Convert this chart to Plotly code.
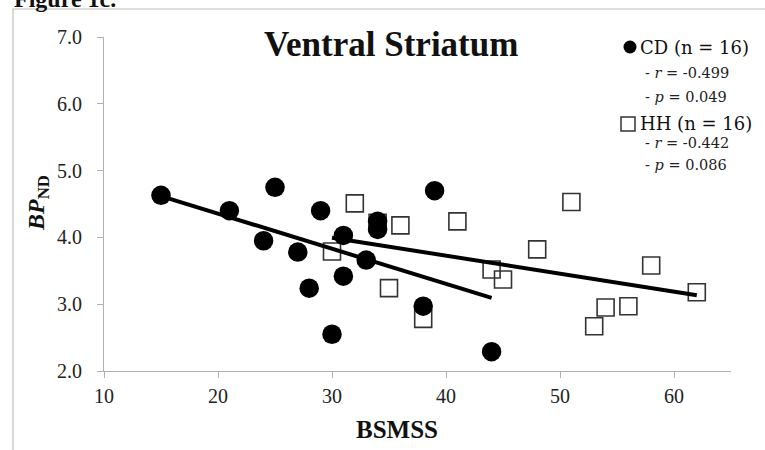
import numpy as np
import plotly.graph_objects as go

# ---- data ----
cd_x = [15, 21, 25, 24, 27, 29, 28, 30, 31, 31, 33, 34, 34, 39, 38, 44]
cd_y = [4.63, 4.40, 4.75, 3.95, 3.78, 4.40, 3.24, 2.55, 4.03, 3.42, 3.66, 4.24, 4.12, 4.70, 2.97, 2.29]
hh_x = [30, 32, 34, 35, 36, 38, 41, 44, 45, 48, 51, 53, 54, 56, 58, 62]
hh_y = [3.79, 4.51, 4.22, 3.24, 4.18, 2.78, 4.24, 3.52, 3.37, 3.82, 4.53, 2.67, 2.95, 2.97, 3.58, 3.18]
x_ticks = [10, 20, 30, 40, 50, 60]
y_ticks = [2, 3, 4, 5, 6, 7]
title = "Ventral Striatum"
cd_label = "CD (n = 16)"
hh_label = "HH (n = 16)"
cd_stats = ["- <i>r</i> = -0.499", "- <i>p</i> = 0.049"]
hh_stats = ["- <i>r</i> = -0.442", "- <i>p</i> = 0.086"]

W, H = 765, 450
L, R, T, B = 104, 34, 37, 79
PW, PH = W - L - R, H - T - B


def px(x):
    return (x - L) / PW


def py(y):
    return (H - B - y) / PH


def fit(xs, ys):
    k, b = np.polyfit(xs, ys, 1)
    xe = np.array([min(xs), max(xs)])
    return xe, k * xe + b


fig = go.Figure()
fig.add_trace(go.Scatter(x=hh_x, y=hh_y, mode="markers",
                         marker=dict(symbol="square-open", size=17,
                                     color="#333333", line=dict(width=1.6, color="#333333"))))
fig.add_trace(go.Scatter(x=cd_x, y=cd_y, mode="markers",
                         marker=dict(symbol="circle", size=19.5, color="black",
                                     line=dict(width=0))))
for xs, ys in ((cd_x, cd_y), (hh_x, hh_y)):
    fx, fy = fit(xs, ys)
    fig.add_trace(go.Scatter(x=fx, y=fy, mode="lines",
                             line=dict(color="black", width=4)))

axis_common = dict(showline=True, linecolor="#b0b0b0", linewidth=1,
                   ticks="outside", ticklen=6, tickcolor="#b0b0b0",
                   showgrid=False, zeroline=False,
                   tickfont=dict(family="Liberation Serif", size=20, color="#222222"))
fig.update_xaxes(range=[10, 65], tickvals=x_ticks, ticklabelstandoff=1, **axis_common)
fig.update_yaxes(range=[2, 7], tickvals=y_ticks, tickformat=".1f",
                 ticklabelstandoff=11, **axis_common)

ann = []
ann.append(dict(text="<b>" + title + "</b>", x=px(391), y=py(45), xref="paper", yref="paper",
                showarrow=False, xanchor="center", yanchor="middle",
                font=dict(family="Liberation Serif", size=35, color="#111111")))
ann.append(dict(text="<b>BSMSS</b>", x=px(397), y=py(430), xref="paper", yref="paper",
                showarrow=False, xanchor="center", yanchor="middle",
                font=dict(family="Liberation Serif", size=25, color="#111111")))
ann.append(dict(text="<b><i>BP</i><sub>ND</sub></b>", x=px(38), y=py(203), xref="paper", yref="paper",
                showarrow=False, xanchor="center", yanchor="middle", textangle=-90,
                font=dict(family="Liberation Serif", size=24, color="#111111")))
ann.append(dict(text="<b>Figure 1c.</b>", x=px(12), y=py(14), xref="paper", yref="paper",
                showarrow=False, xanchor="left", yanchor="bottom",
                font=dict(family="Liberation Serif", size=24, color="#111111")))
for txt, yy in ((cd_label, 47), (hh_label, 123)):
    ann.append(dict(text=txt, x=px(638), y=py(yy), xref="paper", yref="paper",
                    showarrow=False, xanchor="left", yanchor="middle",
                    font=dict(family="DejaVu Serif", size=18, color="#111111")))
for txt, yy in zip(cd_stats + hh_stats, (73, 97, 143, 165)):
    ann.append(dict(text=txt, x=px(643), y=py(yy), xref="paper", yref="paper",
                    showarrow=False, xanchor="left", yanchor="middle",
                    font=dict(family="DejaVu Serif", size=14.5, color="#222222")))

shapes = [
    dict(type="rect", xref="paper", yref="paper", x0=px(13), x1=px(780), y0=py(9), y1=py(470),
         line=dict(color="#bdbdbd", width=1.2), fillcolor="rgba(0,0,0,0)", layer="below"),
    dict(type="circle", xref="paper", yref="paper", x0=px(623.5), x1=px(636.5), y0=py(53.5), y1=py(40.5),
         fillcolor="black", line=dict(width=0)),
    dict(type="rect", xref="paper", yref="paper", x0=px(621), x1=px(635), y0=py(131), y1=py(117),
         fillcolor="rgba(0,0,0,0)", line=dict(color="#333333", width=1.5)),
]

fig.update_layout(width=W, height=H, margin=dict(l=L, r=R, t=T, b=B),
                  paper_bgcolor="white", plot_bgcolor="white", showlegend=False,
                  annotations=ann, shapes=shapes)
fig.write_html("out.html", config={"displayModeBar": False},
               post_script="document.body.style.margin='0';document.body.style.overflow='hidden';")
